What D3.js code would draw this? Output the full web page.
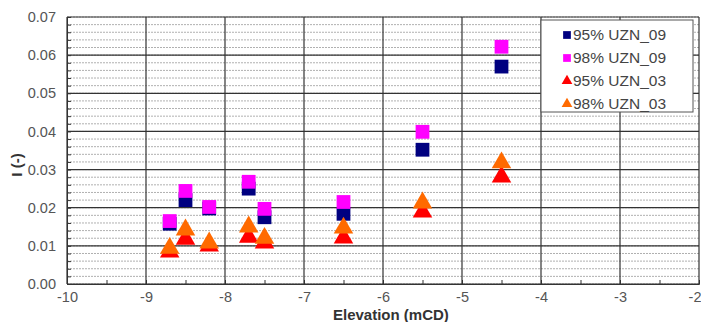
<!DOCTYPE html>
<html>
<head>
<meta charset="utf-8">
<script src="https://cdn.jsdelivr.net/npm/d3@7"></script>
<style>
  body { margin: 0; background: #fff; }
  svg { display: block; font-family: "Liberation Sans", Arial, sans-serif; }
</style>
</head>
<body>
<div id="chart"></div>
<script>
// elevations (mCD) at which each series was measured
var elevations = [-8.7, -8.5, -8.2, -7.7, -7.5, -6.5, -5.5, -4.5];

// series values I (-)
var uzn09_95 = [0.0158, 0.0220, 0.0198, 0.0250, 0.0175, 0.0184, 0.0352, 0.0570];
var uzn09_98 = [0.0165, 0.0244, 0.0202, 0.0268, 0.0197, 0.0215, 0.0399, 0.0622];
var uzn03_95 = [0.0084, 0.0118, 0.0100, 0.0123, 0.0108, 0.0121, 0.0189, 0.0281];
var uzn03_98 = [0.0094, 0.0142, 0.0108, 0.0150, 0.0120, 0.0147, 0.0213, 0.0318];

var seriesNames = ["95% UZN_09", "98% UZN_09", "95% UZN_03", "98% UZN_03"];
var xTicks = [-10, -9, -8, -7, -6, -5, -4, -3, -2];
var yTicks = [0, 0.01, 0.02, 0.03, 0.04, 0.05, 0.06, 0.07];

var width = 701, height = 322;
var margin = { top: 17, right: 2, bottom: 38, left: 67 };

var series = [
    { name: seriesNames[0], values: uzn09_95, color: "#000080", shape: "square" },
    { name: seriesNames[1], values: uzn09_98, color: "#ff00ff", shape: "square" },
    { name: seriesNames[2], values: uzn03_95, color: "#ff0000", shape: "triangle" },
    { name: seriesNames[3], values: uzn03_98, color: "#ff6a00", shape: "triangle" }
];

var svg = d3.select("#chart")
    .append("svg")
    .attr("width", width)
    .attr("height", height);

var x = d3.scaleLinear().domain([-10, -2]).range([margin.left, width - margin.right]);
var y = d3.scaleLinear().domain([0, 0.07]).range([height - margin.bottom, margin.top]);

// minor dashed horizontal grid
var minor = d3.range(0, 0.0701, 0.002);
svg.append("g")
    .selectAll("line")
    .data(minor)
    .enter()
    .append("line")
    .attr("x1", x(-10))
    .attr("x2", x(-2))
    .attr("y1", function(d) { return y(d); })
    .attr("y2", function(d) { return y(d); })
    .attr("stroke", "#b0b0b0")
    .attr("stroke-width", 1)
    .attr("stroke-dasharray", "2,1");

// major grid
svg.append("g")
    .selectAll("line")
    .data(yTicks)
    .enter()
    .append("line")
    .attr("x1", x(-10))
    .attr("x2", x(-2))
    .attr("y1", function(d) { return y(d); })
    .attr("y2", function(d) { return y(d); })
    .attr("stroke", "#333")
    .attr("stroke-width", 1.2);

svg.append("g")
    .selectAll("line")
    .data(xTicks)
    .enter()
    .append("line")
    .attr("x1", function(d) { return x(d); })
    .attr("x2", function(d) { return x(d); })
    .attr("y1", y(0))
    .attr("y2", y(0.07))
    .attr("stroke", "#333")
    .attr("stroke-width", 1.2);

// axes
var xAxis = d3.axisBottom(x)
    .tickValues(d3.range(-10, -1.9, 0.5))
    .tickSize(-4)
    .tickFormat(function(d) { return Number.isInteger(d) ? d : ""; });

svg.append("g")
    .attr("transform", "translate(0," + y(0) + ")")
    .call(xAxis)
    .call(function(g) {
        g.select(".domain").attr("stroke", "#333");
        g.selectAll(".tick line").attr("stroke", "#333");
        g.selectAll("text")
            .attr("dy", 15)
            .attr("fill", "#555")
            .attr("font-size", 14.5)
            .attr("font-family", "Liberation Sans, Arial, sans-serif");
        // last label sits on the right edge
        g.selectAll("text")
            .filter(function(d) { return d === -2; })
            .attr("text-anchor", "end")
            .attr("x", 2);
    });

var yAxis = d3.axisLeft(y)
    .tickValues(minor)
    .tickSize(-4)
    .tickFormat(function(d) {
        var r = Math.round(d * 1000);
        return r % 10 === 0 ? d3.format(".2f")(d) : "";
    });

svg.append("g")
    .attr("transform", "translate(" + x(-10) + ",0)")
    .call(yAxis)
    .call(function(g) {
        g.select(".domain").attr("stroke", "#333");
        g.selectAll(".tick line").attr("stroke", "#333");
        g.selectAll("text")
            .attr("x", -11)
            .attr("fill", "#555")
            .attr("font-size", 14.5)
            .attr("font-family", "Liberation Sans, Arial, sans-serif");
    });

// axis labels
svg.append("text")
    .attr("x", x(-5.9))
    .attr("y", 320)
    .attr("text-anchor", "middle")
    .attr("font-size", 15)
    .attr("font-weight", "bold")
    .attr("fill", "#333")
    .text("Elevation (mCD)");

svg.append("text")
    .attr("transform", "translate(22,165)rotate(-90)")
    .attr("text-anchor", "middle")
    .attr("font-size", 15)
    .attr("font-weight", "bold")
    .attr("fill", "#333")
    .text("I (-)");

// markers
var sq = d3.symbol().type(d3.symbolSquare).size(190);
var tri = d3.symbol().type(d3.symbolTriangle).size(165);

series.forEach(function(s) {
    svg.append("g")
        .selectAll("path")
        .data(s.values)
        .enter()
        .append("path")
        .attr("d", s.shape === "square" ? sq : tri)
        .attr("transform", function(d, i) {
            return "translate(" + x(elevations[i]) + "," + y(d) + ")";
        })
        .attr("fill", s.color);
});

// legend
var legend = svg.append("g")
    .attr("transform", "translate(541,20)");

legend.append("rect")
    .attr("width", 152)
    .attr("height", 92)
    .attr("fill", "#fff")
    .attr("stroke", "#555")
    .attr("stroke-width", 1);

var lsq = d3.symbol().type(d3.symbolSquare).size(60);
var ltri = d3.symbol().type(d3.symbolTriangle).size(50);

series.forEach(function(s, i) {
    var row = legend.append("g")
        .attr("transform", "translate(0," + (15 + i * 23) + ")");
    row.append("path")
        .attr("d", s.shape === "square" ? lsq : ltri)
        .attr("transform", "translate(26,0)")
        .attr("fill", s.color);
    row.append("text")
        .attr("x", 32)
        .attr("dy", "0.35em")
        .attr("font-size", 15.5)
        .attr("fill", "#444")
        .text(s.name);
});
</script>
</body>
</html>
